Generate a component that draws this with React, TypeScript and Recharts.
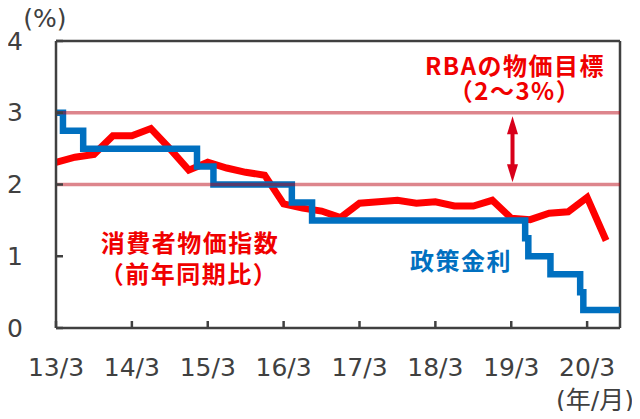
import { LineChart, Line, XAxis, YAxis, ReferenceLine } from 'recharts';

// months counted from 2013/3
const tickMonths = [0, 12, 24, 36, 48, 60, 72, 84];
const tickLabels = ['13/3', '14/3', '15/3', '16/3', '17/3', '18/3', '19/3', '20/3'];
const yTicks = [0, 1, 2, 3, 4];

// CPI (y/y, quarterly)
const cpiMonths = [0, 3, 6, 9, 12, 15, 18, 21, 24, 27, 30, 33, 36, 39, 42, 45, 48, 51, 54, 57, 60, 63, 66, 69, 72, 75, 78, 81, 84, 87];
const cpiValues = [2.31, 2.38, 2.42, 2.68, 2.68, 2.78, 2.5, 2.2, 2.31, 2.23, 2.17, 2.13, 1.73, 1.67, 1.63, 1.54, 1.74, 1.76, 1.78, 1.74, 1.76, 1.7, 1.7, 1.78, 1.53, 1.51, 1.6, 1.62, 1.82, 1.22];

// policy rate, month of each change
const rateMonths = [0, 1.1, 4.3, 22.3, 24.9, 37.3, 40.5, 74.2, 74.7, 78.2, 82.9, 83.4, 89.2];
const rateValues = [3.0, 2.75, 2.5, 2.25, 2.0, 1.75, 1.5, 1.25, 1.0, 0.75, 0.5, 0.25, 0.25];

const targetBand = [2, 3];
const xEnd = 89.2;

const cpiData = cpiMonths.map((m, i) => ({ m, v: cpiValues[i] }));
const rateData = rateMonths.map((m, i) => ({ m, v: rateValues[i] }));
const bandData = targetBand.map((t) => [{ m: 0, v: t }, { m: xEnd, v: t }]);

const axisColor = '#404040';
const tickFont = 'DejaVu Sans, Noto Sans CJK JP';
const cjkFont = 'Noto Sans CJK JP, sans-serif';

const XTick = (props: any) => {
  const { x, y, payload } = props;
  const label = tickLabels[tickMonths.indexOf(payload.value)];
  return (
    <g>
      <line x1={x} x2={x} y1={y} y2={y - 7} stroke={axisColor} strokeWidth={2.5} />
      <text x={x} y={y + 39} textAnchor="middle" dominantBaseline="central" fontSize={25} fontFamily={tickFont} fill={axisColor}>
        {label}
      </text>
    </g>
  );
};

const YTick = (props: any) => {
  const { x, y, payload } = props;
  return (
    <g>
      <line x1={x} x2={x + 7} y1={y} y2={y} stroke={axisColor} strokeWidth={2.5} />
      <text x={15} y={y} textAnchor="middle" dominantBaseline="central" fontSize={25} fontFamily={tickFont} fill={axisColor}>
        {payload.value}
      </text>
    </g>
  );
};

const Arrow = (props: any) => {
  const { x1, y1, y2 } = props;
  const top = Math.min(y1, y2);
  const bot = Math.max(y1, y2);
  const c = '#D8001A';
  return (
    <g>
      <line x1={x1} x2={x1} y1={top + 14} y2={bot - 14} stroke={c} strokeWidth={4} />
      <polygon points={`${x1},${top} ${x1 - 5.5},${top + 18} ${x1 + 5.5},${top + 18}`} fill={c} />
      <polygon points={`${x1},${bot} ${x1 - 5.5},${bot - 18} ${x1 + 5.5},${bot - 18}`} fill={c} />
    </g>
  );
};

export default function App() {
  return (
    <div style={{ position: 'relative', width: 640, height: 419, margin: -8 }}>
      <LineChart width={640} height={419} margin={{ top: 41, right: 20, bottom: 31, left: 16 }}>
        <XAxis
          type="number"
          dataKey="m"
          domain={[0, xEnd]}
          ticks={tickMonths}
          allowDataOverflow
          tick={<XTick />}
          tickLine={false}
          tickSize={0}
          tickMargin={0}
          height={60}
          axisLine={{ stroke: axisColor, strokeWidth: 2.5 }}
        />
        <YAxis
          type="number"
          domain={[0, 4]}
          ticks={yTicks}
          tick={<YTick />}
          tickLine={false}
          tickSize={0}
          tickMargin={0}
          width={40}
          axisLine={{ stroke: axisColor, strokeWidth: 2.5 }}
        />
        <ReferenceLine y={4} stroke={axisColor} strokeWidth={2.5} />
        <ReferenceLine x={xEnd} stroke={axisColor} strokeWidth={2.5} />
        <Line data={cpiData} dataKey="v" type="linear" stroke="#FF0000" strokeWidth={7} dot={false} isAnimationActive={false} />
        <Line data={rateData} dataKey="v" type="stepAfter" stroke="#0070C0" strokeWidth={6.5} dot={false} isAnimationActive={false} />
        {bandData.map((d, i) => (
          <Line key={i} data={d} dataKey="v" type="linear" stroke="#B8000F" strokeOpacity={0.48} strokeWidth={3.5} dot={false} isAnimationActive={false} />
        ))}
        <ReferenceLine segment={[{ x: 72.2, y: 2.03 }, { x: 72.2, y: 2.95 }]} shape={<Arrow />} />
      </LineChart>
      <svg width={640} height={419} style={{ position: 'absolute', left: 0, top: 0, pointerEvents: 'none' }}>
        <text x={45} y={18} textAnchor="middle" dominantBaseline="central" fontSize={25} fontFamily={tickFont} fill={axisColor}>(%)</text>
        <text x={595} y={400} textAnchor="middle" dominantBaseline="central" fontSize={25} fontFamily={tickFont} fill={axisColor}>(年/月)</text>
        <g fontFamily={cjkFont} fontWeight="bold" fontSize={24} letterSpacing={1.5} textAnchor="middle" dominantBaseline="central">
          <text x={515} y={64} fill="#F00000">RBAの物価目標</text>
          <text x={515} y={89} fill="#F00000">（2～3%）</text>
          <text x={190} y={241} fill="#F00000">消費者物価指数</text>
          <text x={189} y={272} fill="#F00000">（前年同期比）</text>
          <text x={461} y={259} fill="#0070C0">政策金利</text>
        </g>
      </svg>
    </div>
  );
}
